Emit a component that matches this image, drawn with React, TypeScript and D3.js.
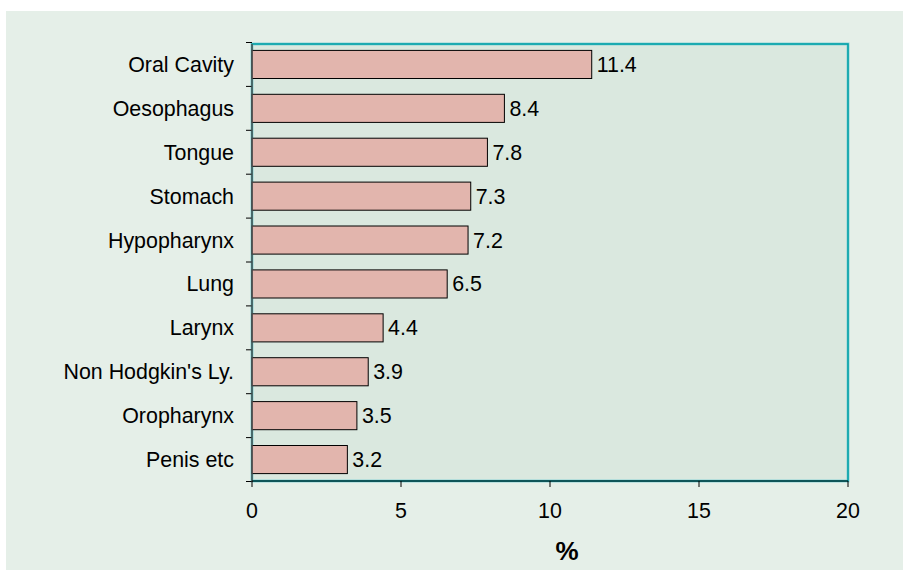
import React from "react";
import * as d3 from "d3";

const categories = [
  "Oral Cavity",
  "Oesophagus",
  "Tongue",
  "Stomach",
  "Hypopharynx",
  "Lung",
  "Larynx",
  "Non Hodgkin's Ly.",
  "Oropharynx",
  "Penis etc",
];
const values = [11.4, 8.47, 7.9, 7.34, 7.25, 6.55, 4.4, 3.9, 3.52, 3.2];
const valueLabels = ["11.4", "8.4", "7.8", "7.3", "7.2", "6.5", "4.4", "3.9", "3.5", "3.2"];
const xTicks = [0, 5, 10, 15, 20];
const xTitle = "%";

const W = 903;
const H = 570;
const L = 252;
const R = 848;
const T = 44;
const B = 481;

export default function App() {
  const x = d3.scaleLinear().domain([0, 20]).range([L, R]);
  const y = d3.scaleBand<string>().domain(categories).range([42.5, 481.5]).paddingInner(0.36).paddingOuter(0.18);
  const step = y.step();
  const font = "'Liberation Sans', Arial, sans-serif";
  const fs = 21.4;
  return (
    <svg width={W} height={H} style={{ position: "absolute", left: 0, top: 0 }} fontFamily={font}>
      <rect x={0} y={0} width={W} height={H} fill="#ffffff" />
      <rect x={6} y={11} width={W - 6} height={H - 11} fill="#e5efe8" />
      <rect x={L} y={T} width={R - L} height={B - T} fill="#dae8df" stroke="#8fd4d6" strokeWidth={3} />
      <rect x={L} y={T} width={R - L} height={B - T} fill="none" stroke="#00a0a8" strokeWidth={1.6} />
      {categories.map((c, i) => (
        <g key={c}>
          <rect
            x={x(0)}
            y={y(c)!}
            width={x(values[i]) - x(0)}
            height={y.bandwidth()}
            fill="#e2b5ad"
            stroke="#000"
            strokeWidth={1}
          />
          <text x={x(values[i]) + 5} y={y(c)! + y.bandwidth() / 2} dy="0.35em" fontSize={fs} fill="#000">
            {valueLabels[i]}
          </text>
          <text x={234} y={y(c)! + y.bandwidth() / 2} dy="0.35em" fontSize={fs} fill="#000" textAnchor="end">
            {c}
          </text>
        </g>
      ))}
      {d3.range(categories.length + 1).map((i) => {
        const yy = 42.5 + i * step;
        return <line key={"yt" + i} x1={L - 6} x2={L} y1={yy} y2={yy} stroke="#000" strokeWidth={1} />;
      })}
      <line x1={L} x2={L} y1={T} y2={B + 1} stroke="#555" strokeWidth={1.5} />
      <line x1={L} x2={R} y1={B} y2={B} stroke="#000" strokeWidth={1} />
      {xTicks.map((t) => (
        <g key={"xt" + t}>
          <line x1={x(t)} x2={x(t)} y1={B} y2={B + 6} stroke="#000" strokeWidth={1} />
          <text x={x(t)} y={518} fontSize={fs} textAnchor="middle" fill="#000">
            {t}
          </text>
        </g>
      ))}
      <text x={(L + R) / 2 + 17} y={560} fontSize={26} fontWeight="bold" textAnchor="middle" fill="#000">
        {xTitle}
      </text>
    </svg>
  );
}
